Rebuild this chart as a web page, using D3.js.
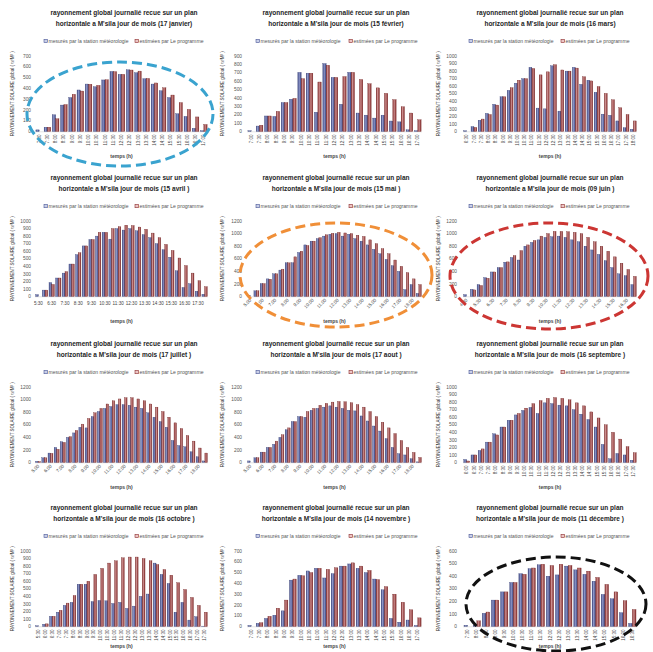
<!DOCTYPE html>
<html>
<head>
<meta charset="utf-8">
<script src="https://cdn.jsdelivr.net/npm/d3@7"></script>
<style>
  body { margin: 0; background: #fff; }
  svg { display: block; font-family: "Liberation Sans", Arial, sans-serif; }
</style>
</head>
<body>
<svg id="chart" width="653" height="652"></svg>
<script>
// time categories (half-hour steps)
const T0700_1700 = ["7:00","7:30","8:00","8:30","9:00","9:30","10:00","10:30","11:00","11:30","12:00","12:30","13:00","13:30","14:00","14:30","15:00","15:30","16:00","16:30","17:00"];
const T0630_1800 = ["6:30","7:00","7:30","8:00","8:30","9:00","9:30","10:00","10:30","11:00","11:30","12:00","12:30","13:00","13:30","14:00","14:30","15:00","15:30","16:00","16:30","17:00","17:30","18:00"];
const T0530_1800 = ["5:30","6:00","6:30","7:00","7:30","8:00","8:30","9:00","9:30","10:00","10:30","11:00","11:30","12:00","12:30","13:00","13:30","14:00","14:30","15:00","15:30","16:00","16:30","17:00","17:30","18:00"];
const T0500_1830 = ["5:00","5:30","6:00","6:30","7:00","7:30","8:00","8:30","9:00","9:30","10:00","10:30","11:00","11:30","12:00","12:30","13:00","13:30","14:00","14:30","15:00","15:30","16:00","16:30","17:00","17:30","18:00","18:30"];
const T0430_1700 = ["4:30","5:00","5:30","6:00","6:30","7:00","7:30","8:00","8:30","9:00","9:30","10:00","10:30","11:00","11:30","12:00","12:30","13:00","13:30","14:00","14:30","15:00","15:30","16:00","16:30","17:00"];
const T0600_1730 = ["6:00","6:30","7:00","7:30","8:00","8:30","9:00","9:30","10:00","10:30","11:00","11:30","12:00","12:30","13:00","13:30","14:00","14:30","15:00","15:30","16:00","16:30","17:00","17:30"];
const T0530_1730 = ["5:30","6:00","6:30","7:00","7:30","8:00","8:30","9:00","9:30","10:00","10:30","11:00","11:30","12:00","12:30","13:00","13:30","14:00","14:30","15:00","15:30","16:00","16:30","17:00","17:30"];
const T0730_1630 = ["7:30","8:00","8:30","9:00","9:30","10:00","10:30","11:00","11:30","12:00","12:30","13:00","13:30","14:00","14:30","15:00","15:30","16:00","16:30"];

// measured (station) vs estimated (programme), W/m²
const janMeasured  = [15,40,155,245,315,385,440,415,478,557,530,572,545,490,440,378,315,165,140,30,8];
const janEstimated = [0,40,118,250,345,375,438,428,480,555,530,570,560,492,450,405,338,268,205,135,65];
const febMeasured  = [10,65,185,180,345,385,705,695,230,810,645,325,705,220,195,160,195,125,115,20,10];
const febEstimated = [0,75,185,240,345,395,630,695,590,790,645,655,705,620,570,520,455,380,295,220,140];
const marMeasured  = [10,65,150,240,360,460,545,640,700,850,310,300,870,270,800,850,625,680,520,230,215,140,50,30];
const marEstimated = [0,55,165,225,350,460,580,680,700,835,750,790,885,815,800,840,725,670,595,505,420,315,225,140];
const aprMeasured  = [25,85,185,245,310,430,555,670,755,800,850,760,900,880,900,870,820,780,700,620,520,340,120,170,70,30];
const aprEstimated = [0,85,160,245,330,430,580,670,755,850,850,900,925,945,940,920,890,840,780,690,610,510,410,310,210,130];
const mayMeasured  = [20,90,205,280,360,420,535,535,700,820,880,920,960,990,1000,960,990,920,880,820,750,680,590,490,400,110,190,50];
const mayEstimated = [0,90,205,275,360,435,535,630,720,810,880,935,980,1005,1020,1010,1000,975,955,900,840,760,680,580,480,380,280,190];
const junMeasured  = [30,115,190,300,390,460,545,620,580,800,860,900,940,950,960,940,900,870,800,740,670,570,460,360,330,190];
const junEstimated = [0,105,175,290,390,460,550,650,730,820,890,960,1000,1035,1035,1030,1020,1000,940,870,800,720,630,530,430,320];
const julMeasured  = [20,75,150,240,330,400,470,560,550,730,810,860,890,920,920,910,880,860,790,720,650,560,350,270,250,170,90,25];
const julEstimated = [15,75,145,210,320,410,510,610,700,790,860,930,980,1010,1030,1030,1010,980,930,880,810,720,630,540,430,340,230,150];
const augMeasured  = [25,75,165,240,290,400,520,650,730,720,830,860,880,900,880,860,830,820,740,660,580,500,380,240,140,120,60,10];
const augEstimated = [0,75,165,240,340,440,550,650,730,810,860,910,940,960,970,965,950,920,880,810,730,640,550,460,350,240,160,80];
const sepMeasured  = [40,100,160,270,380,470,560,630,690,730,650,790,780,760,750,700,640,570,470,240,50,120,100,30];
const sepEstimated = [20,100,180,270,365,470,560,650,720,780,820,850,860,850,830,790,750,670,590,500,400,310,210,130];
const octMeasured  = [10,30,135,190,280,320,560,560,330,345,340,305,320,240,270,400,430,840,690,570,190,320,85,130,5];
const octEstimated = [0,35,135,215,310,410,560,600,690,770,840,870,910,920,920,900,870,820,755,680,580,490,385,280,190];
const novMeasured  = [10,30,75,105,145,430,475,515,540,450,490,560,580,540,500,440,340,75,40,60,10];
const novEstimated = [0,35,95,170,245,440,470,500,540,530,545,560,590,560,520,435,370,300,225,155,80];
const decMeasured  = [10,10,105,210,275,350,420,460,490,400,410,480,450,415,360,255,220,110,25];
const decEstimated = [0,45,115,210,275,350,415,465,495,485,495,485,465,440,390,335,275,205,135];

const dates  = ["(17 janvier)","(15 février)","(16 mars)","(15 avril )","(15 mai )","(09 juin )","(17 juillet )","(17 aout )","(16 septembre )","(16 octobre )","(14 novembre )","(11 décembre )"];
const yMaxes = [700, 900, 1000, 1000, 1200, 1200, 1200, 1200, 1000, 1000, 700, 600];
const ySteps = [100, 100, 100, 100, 200, 200, 200, 200, 100, 100, 100, 100];

const TITLE_1 = "rayonnement global journalié recue  sur un plan";
const TITLE_2 = "horizontale a M'sila jour de mois ";
const LEGEND = ["mesurés par la station météorologie", "estimées par Le programme"];
const Y_LABEL = "RAYONNEMENT SOLAIRE global ( w/M² )";

const panels = [
  { times: T0700_1700, measured: janMeasured, estimated: janEstimated, labels: "v" },
  { times: T0700_1700, measured: febMeasured, estimated: febEstimated, labels: "v" },
  { times: T0630_1800, measured: marMeasured, estimated: marEstimated, labels: "v" },
  { times: T0530_1800, measured: aprMeasured, estimated: aprEstimated, labels: "h" },
  { times: T0500_1830, measured: mayMeasured, estimated: mayEstimated, labels: "d" },
  { times: T0430_1700, measured: junMeasured, estimated: junEstimated, labels: "d" },
  { times: T0500_1830, measured: julMeasured, estimated: julEstimated, labels: "d" },
  { times: T0500_1830, measured: augMeasured, estimated: augEstimated, labels: "d" },
  { times: T0600_1730, measured: sepMeasured, estimated: sepEstimated, labels: "v" },
  { times: T0530_1730, measured: octMeasured, estimated: octEstimated, labels: "v" },
  { times: T0700_1700, measured: novMeasured, estimated: novEstimated, labels: "v" },
  { times: T0730_1630, measured: decMeasured, estimated: decEstimated, labels: "v" },
].map((p, i) => ({ ...p, date: dates[i], yMax: yMaxes[i], yStep: ySteps[i] }));

const svg = d3.select("#chart");

const COL_LEFT = [0, 218, 435];
const ROW_TOP = [15, 180, 346, 510];
const TEMPS_Y = [143, 143, 143, 138];
const COL_LAYOUT = [
  { titleX: 124, yLabelX: 14, tickR: 31, x0: 35, x1: 208, legM: 44, legE: 135 },
  { titleX: 118, yLabelX: 6, tickR: 24, x0: 29, x1: 204, legM: 38, legE: 131 },
  { titleX: 115, yLabelX: 5, tickR: 22, x0: 28, x1: 202, legM: 34, legE: 126 },
];
const PLOT_TOP = 41;
const PLOT_BOTTOM = 116.5;

// excel-like shaded bars
const defs = svg.append("defs");
function barGradient(id, edge, mid) {
  const gr = defs.append("linearGradient").attr("id", id).attr("x1", 0).attr("x2", 1).attr("y1", 0).attr("y2", 0);
  gr.append("stop").attr("offset", "0%").attr("stop-color", edge);
  gr.append("stop").attr("offset", "40%").attr("stop-color", mid);
  gr.append("stop").attr("offset", "100%").attr("stop-color", edge);
}
barGradient("gm", "#353f7c", "#8f98c9");
barGradient("ge", "#7f2525", "#cc8e8e");

// squeeze a text to look like the narrow office font
function squeeze(sel, ratio) {
  const w = sel.node().getComputedTextLength();
  sel.attr("textLength", w * ratio).attr("lengthAdjust", "spacingAndGlyphs");
  return w;
}

function drawPanel(p, i) {
  const col = i % 3;
  const row = Math.floor(i / 3);
  const L = COL_LAYOUT[col];
  const g = svg.append("g").attr("transform", `translate(${COL_LEFT[col]},${ROW_TOP[row]})`);

  // title
  const t1 = g.append("text").attr("x", L.titleX).attr("y", 0)
    .attr("text-anchor", "middle").attr("font-size", 7.6).attr("font-weight", "bold")
    .attr("fill", "#1e1e1e").text(TITLE_1);
  const ratio = 147 / t1.node().getComputedTextLength();
  squeeze(t1, ratio);
  const t2 = g.append("text").attr("x", L.titleX).attr("y", 10.5)
    .attr("text-anchor", "middle").attr("font-size", 7.6).attr("font-weight", "bold")
    .attr("fill", "#1e1e1e").text(TITLE_2 + p.date);
  squeeze(t2, ratio);

  // legend
  const legY = 27.5;
  [[L.legM, "#c9cfe8", "#4a5796", LEGEND[0], 80], [L.legE, "#ecc6c6", "#8e2e2e", LEGEND[1], 64]].forEach(([lx, fill, stroke, label, target]) => {
    g.append("rect").attr("x", lx).attr("y", legY - 3.2).attr("width", 3.4).attr("height", 3.4)
      .attr("fill", fill).attr("stroke", stroke).attr("stroke-width", 0.6);
    const lt = g.append("text").attr("x", lx + 4.5).attr("y", legY).attr("font-size", 5)
      .attr("fill", "#555").text(label);
    squeeze(lt, target / lt.node().getComputedTextLength());
  });

  // scales
  const x = d3.scaleBand().domain(p.times).range([L.x0, L.x1]).paddingInner(0.18).paddingOuter(0.1);
  const xs = d3.scaleBand().domain(["m", "e"]).range([0, x.bandwidth()]).padding(0.02);
  const y = d3.scaleLinear().domain([0, p.yMax]).range([PLOT_BOTTOM, PLOT_TOP]);

  // y tick labels
  g.append("g").selectAll("text").data(d3.range(0, p.yMax + 1, p.yStep)).join("text")
    .attr("x", L.tickR).attr("y", (d) => y(d) + 1.7).attr("text-anchor", "end")
    .attr("font-size", 4.8).attr("fill", "#555").text((d) => d);

  // y axis title
  const yl = g.append("text")
    .attr("transform", `translate(${L.yLabelX},${(PLOT_TOP + PLOT_BOTTOM) / 2}) rotate(-90)`)
    .attr("text-anchor", "middle").attr("font-size", 4.6).attr("fill", "#333").text(Y_LABEL);
  squeeze(yl, 85 / yl.node().getComputedTextLength());

  // baseline
  g.append("line").attr("x1", L.x0).attr("x2", L.x1).attr("y1", PLOT_BOTTOM + 0.3).attr("y2", PLOT_BOTTOM + 0.3)
    .attr("stroke", "#c8c8c8").attr("stroke-width", 0.5);

  // bars
  const rows = p.times.map((t, k) => ({ t, m: p.measured[k], e: p.estimated[k] }));
  const grp = g.append("g").selectAll("g").data(rows).join("g")
    .attr("transform", (d) => `translate(${x(d.t)},0)`);
  grp.selectAll("rect").data((d) => [["m", d.m], ["e", d.e]]).join("rect")
    .attr("x", (d) => xs(d[0])).attr("width", xs.bandwidth())
    .attr("y", (d) => y(d[1])).attr("height", (d) => PLOT_BOTTOM - y(d[1]))
    .attr("fill", (d) => (d[0] === "m" ? "url(#gm)" : "url(#ge)"))
    .attr("stroke", (d) => (d[0] === "m" ? "#2e3870" : "#6e1e1e")).attr("stroke-width", 0.3);

  // x tick labels
  const lab = g.append("g");
  const cx = (t) => x(t) + x.bandwidth() / 2;
  if (p.labels === "v") {
    lab.selectAll("text").data(p.times).join("text")
      .attr("transform", (t) => `translate(${cx(t) + 1.6},${PLOT_BOTTOM + 3}) rotate(-90)`)
      .attr("text-anchor", "end").attr("font-size", 4.5).attr("fill", "#444").text((t) => t);
  } else if (p.labels === "d") {
    lab.selectAll("text").data(p.times.filter((t, k) => k % 2 === 0)).join("text")
      .attr("transform", (t) => `translate(${cx(t) + 1.5},${PLOT_BOTTOM + 4}) rotate(-45)`)
      .attr("text-anchor", "end").attr("font-size", 4.6).attr("fill", "#444").text((t) => t);
  } else {
    lab.selectAll("text").data(p.times.filter((t, k) => k % 2 === 0)).join("text")
      .attr("x", cx).attr("y", PLOT_BOTTOM + 8).attr("text-anchor", "middle")
      .attr("font-size", 4.6).attr("fill", "#444").text((t) => t);
  }

  // x axis title
  g.append("text").attr("x", (L.x0 + L.x1) / 2).attr("y", TEMPS_Y[row]).attr("text-anchor", "middle")
    .attr("font-size", 5).attr("font-weight", "bold").attr("fill", "#444").text("temps (h)");
}

panels.forEach(drawPanel);

// dashed highlight ellipses
const HIGHLIGHTS = [
  { cx: 120, cy: 114, rx: 93, ry: 52, color: "#3aa3cf" },
  { cx: 336, cy: 275, rx: 96, ry: 52, color: "#f08f38" },
  { cx: 549, cy: 276, rx: 99, ry: 53, color: "#cc3633" },
  { cx: 556, cy: 604, rx: 90, ry: 47, color: "#111111" },
];
svg.append("g").selectAll("ellipse").data(HIGHLIGHTS).join("ellipse")
  .attr("cx", (d) => d.cx).attr("cy", (d) => d.cy).attr("rx", (d) => d.rx).attr("ry", (d) => d.ry)
  .attr("fill", "none").attr("stroke", (d) => d.color).attr("stroke-width", 3)
  .attr("stroke-dasharray", "10,5");
</script>
</body>
</html>
